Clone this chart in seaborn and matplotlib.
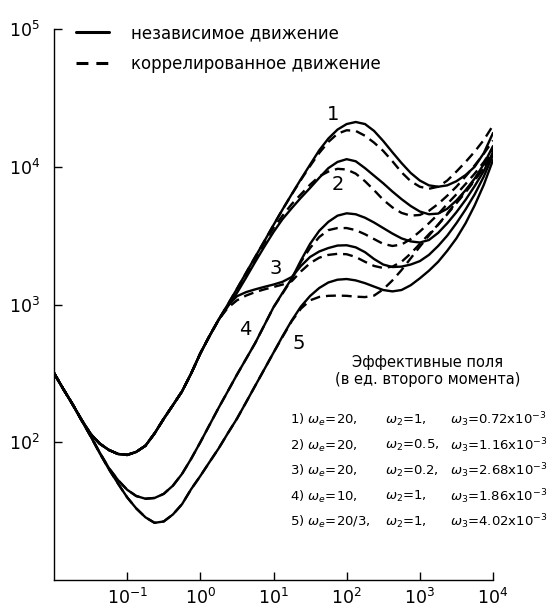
import pandas as pd
import seaborn as sns
import matplotlib.pyplot as plt
from matplotlib.lines import Line2D
from matplotlib.ticker import NullLocator

# sample points along x (1/8 decade steps on the log axis)
x_pts = [0.01, 0.0133, 0.0178, 0.0237, 0.0316, 0.0422, 0.0562, 0.075,
         0.1, 0.133, 0.178, 0.237, 0.316, 0.422, 0.562, 0.75,
         1, 1.33, 1.78, 2.37, 3.16, 4.22, 5.62, 7.5,
         10, 13.3, 17.8, 23.7, 31.6, 42.2, 56.2, 75,
         100, 133, 178, 237, 316, 422, 562, 750,
         1000, 1330, 1780, 2370, 3160, 4220, 5620, 7500, 10000]

# low-x branches, common for curves with the same omega_e
branch_we20 = [318, 245, 190, 146, 115, 97.7, 87.9, 82.2, 80.9, 85.1, 94.4, 116,
               148, 186, 234, 316, 442, 589, 776]
branch_we10 = [318, 245, 190, 145, 111, 84.1, 65.0, 53.1, 45.2, 40.7, 38.9, 39.4,
               42.2, 48.4, 58.9, 75.9, 100, 133, 178, 234, 309, 403, 525, 708]
branch_we67 = [318, 245, 190, 145, 111, 83.2, 63.8, 50.1, 39.8, 33.1, 28.5, 26.0,
               26.6, 29.9, 35.5, 45.7, 56.9, 71.6, 90.2, 116, 148, 195, 257, 339]

# rest of each curve: solid = independent, dashed = correlated
c1_solid = [1000, 1297, 1698, 2213, 2884, 3776, 4898, 6339, 8128, 10350, 13180, 16030,
            18620, 20420, 21130, 20420, 18200, 15380, 12740, 10640, 9016, 7943, 7328,
            7161, 7328, 7852, 8710, 10000, 12590, 17580]
c1_dash = [1000, 1297, 1698, 2213, 2884, 3776, 4898, 6310, 8035, 10120, 12590, 15140,
           17380, 18410, 18200, 16790, 14960, 13030, 10960, 9120, 7852, 7161, 6918,
           7161, 7943, 9226, 10840, 12880, 15670, 19950]
c2_solid = [966, 1211, 1567, 2037, 2630, 3357, 4169, 5012, 5957, 7015, 8318, 9772,
            10840, 11350, 10960, 9772, 8610, 7586, 6607, 5821, 5188, 4732, 4519,
            4571, 4955, 5689, 6761, 8222, 10470, 14130]
c2_dash = [977, 1259, 1652, 2163, 2799, 3589, 4416, 5370, 6310, 7413, 8511, 9226,
           9661, 9550, 8913, 7852, 6761, 5754, 5070, 4624, 4416, 4467, 4786,
           5370, 6166, 7161, 8511, 10230, 12450, 15490]
c3_solid = [977, 1148, 1230, 1288, 1343, 1396, 1462, 1585, 1905, 2213, 2427, 2570,
            2679, 2692, 2600, 2399, 2138, 1950, 1871, 1884, 1950, 2065, 2291,
            2661, 3162, 3890, 4898, 6310, 8511, 12160]
c3_dash = [944, 1072, 1161, 1230, 1288, 1340, 1396, 1479, 1738, 1995, 2188, 2291,
           2333, 2317, 2213, 2042, 1905, 1841, 1884, 2042, 2344, 2754, 3236,
           3802, 4519, 5433, 6531, 7943, 10000, 13180]
c4_solid = [955, 1216, 1549, 2089, 2754, 3428, 3981, 4416, 4592, 4519, 4266, 3936,
            3589, 3273, 3020, 2871, 2818, 2938, 3311, 3890, 4677, 5754, 7244, 9333, 12790]
c4_dash = [955, 1202, 1531, 2042, 2570, 3090, 3467, 3589, 3589, 3467, 3236, 2985,
           2754, 2661, 2723, 2985, 3388, 3890, 4519, 5370, 6310, 7499, 8913, 10840, 13680]
c5_solid = [447, 589, 767, 966, 1153, 1318, 1445, 1514, 1531, 1496, 1429, 1349,
            1274, 1245, 1274, 1380, 1549, 1758, 2042, 2455, 3020, 3890, 5248, 7413, 11190]
c5_dash = [447, 582, 759, 933, 1072, 1135, 1156, 1161, 1156, 1140, 1132, 1161,
           1288, 1496, 1778, 2163, 2630, 3162, 3802, 4571, 5559, 6683, 8035, 9772, 12160]

kind_labels = ["независимое движение", "коррелированное движение"]
curve_labels = ["1", "2", "3", "4", "5"]
label_x = [65, 76, 10.7, 4.1, 22.4]
label_y = [23800, 7380, 1840, 653, 525]

box_title = "Эффективные поля\n(в ед. второго момента)"
col_we = [r"1) $\omega_e$=20,", r"2) $\omega_e$=20,", r"3) $\omega_e$=20,",
          r"4) $\omega_e$=10,", r"5) $\omega_e$=20/3,"]
col_w2 = [r"$\omega_2$=1,", r"$\omega_2$=0.5,", r"$\omega_2$=0.2,",
          r"$\omega_2$=1,", r"$\omega_2$=1,"]
col_w3 = [r"$\omega_3$=0.72x10$^{-3}$", r"$\omega_3$=1.16x10$^{-3}$",
          r"$\omega_3$=2.68x10$^{-3}$", r"$\omega_3$=1.86x10$^{-3}$",
          r"$\omega_3$=4.02x10$^{-3}$"]

series = [
    ("1", kind_labels[0], branch_we20 + c1_solid),
    ("1", kind_labels[1], branch_we20 + c1_dash),
    ("2", kind_labels[0], branch_we20 + c2_solid),
    ("2", kind_labels[1], branch_we20 + c2_dash),
    ("3", kind_labels[0], branch_we20 + c3_solid),
    ("3", kind_labels[1], branch_we20 + c3_dash),
    ("4", kind_labels[0], branch_we10 + c4_solid),
    ("4", kind_labels[1], branch_we10 + c4_dash),
    ("5", kind_labels[0], branch_we67 + c5_solid),
    ("5", kind_labels[1], branch_we67 + c5_dash),
]
rows = []
for cid, kind, ys in series:
    for xv, yv in zip(x_pts, ys):
        rows.append({"curve": cid, "kind": kind, "x": xv, "y": yv})
df = pd.DataFrame(rows)

sns.set_theme(style="ticks")
plt.rcParams['font.family'] = ['DejaVu Sans']
plt.rcParams['mathtext.fontset'] = 'dejavusans'
plt.rcParams['text.color'] = 'black'

fig = plt.figure(figsize=(5.55, 6.12), dpi=100)
ax = fig.add_axes([0.0973, 0.0523, 0.791, 0.9003])

sns.lineplot(data=df, x="x", y="y", units="curve", style="kind",
             estimator=None, sort=False, color="black", linewidth=1.7,
             dashes={kind_labels[0]: "", kind_labels[1]: (4.2, 2.5)},
             legend=False, ax=ax)

ax.set_xscale("log")
ax.set_yscale("log")
ax.set_xlim(0.01, 10000)
ax.set_ylim(10, 100000)
ax.set_xticks([0.1, 1, 10, 100, 1000, 10000])
ax.set_yticks([100, 1000, 10000, 100000])
ax.xaxis.set_minor_locator(NullLocator())
ax.yaxis.set_minor_locator(NullLocator())
ax.tick_params(direction="in", length=6, width=1, labelsize=12.5, colors="black")
ax.tick_params(axis="x", pad=6)
ax.tick_params(axis="y", pad=10)
ax.set_xlabel("")
ax.set_ylabel("")
sns.despine(ax=ax)
for s in ["left", "bottom"]:
    ax.spines[s].set_linewidth(1)
    ax.spines[s].set_color("black")

handles = [Line2D([], [], color="black", lw=2.2),
           Line2D([], [], color="black", lw=2.2, dashes=(3.9, 2.6))]
ax.legend(handles, kind_labels, loc="upper left", bbox_to_anchor=(0.05, 1.009),
          frameon=False, fontsize=12, handlelength=2.0, handletextpad=1.3,
          labelspacing=0.75, borderpad=0, borderaxespad=0)

for lab, lx, ly in zip(curve_labels, label_x, label_y):
    ax.text(lx, ly, lab, fontsize=14, ha="center", va="center")

ax.text((428 - 54) / 439, (580 - 371) / 551, box_title, transform=ax.transAxes,
        ha="center", va="center", fontsize=10.5, linespacing=1.2)
for i in range(5):
    yy = (580 - (420 + i * 25.5)) / 551
    ax.text((290 - 54) / 439, yy, col_we[i], transform=ax.transAxes, fontsize=9.5, va="center")
    ax.text((385 - 54) / 439, yy, col_w2[i], transform=ax.transAxes, fontsize=9.5, va="center")
    ax.text((450 - 54) / 439, yy, col_w3[i], transform=ax.transAxes, fontsize=9.5, va="center")

fig.savefig("out.png", dpi=100)
